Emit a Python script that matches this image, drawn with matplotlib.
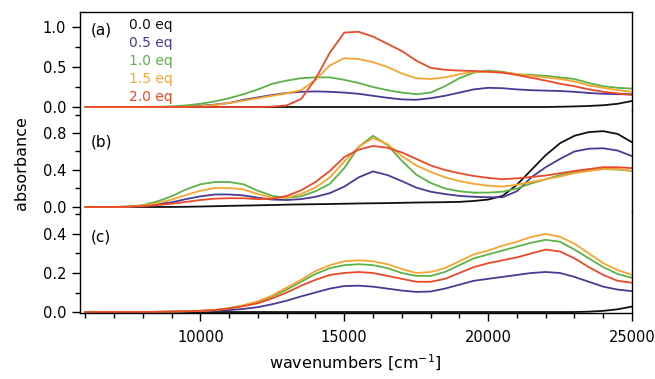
import numpy as np
import matplotlib
matplotlib.use("Agg")
import matplotlib.pyplot as plt
from matplotlib.ticker import MultipleLocator

wn = np.arange(6000, 25001, 500)

labels = ["0.0 eq", "0.5 eq", "1.0 eq", "1.5 eq", "2.0 eq"]
colors = ["#111111", "#4a3a94", "#5cb246", "#f7a531", "#ea4a2a"]

# panel (a)
black_a = [0, 0, 0, 0, 0, 0, 0, 0, 0, 0,
           0, 0, 0, 0, 0, 0, 0, 0, 0, 0,
           0, 0, 0, 0, 0, 0, 0, 0, 0, 0,
           0, 0, 0, .003, .007, .013, .022, .04, .075]
purple_a = [0, 0, 0, 0, 0, 0, 0, .005, .015, .03,
            .05, .09, .12, .15, .175, .19, .195, .19, .18, .165,
            .14, .115, .095, .09, .11, .14, .18, .22, .24, .235,
            .22, .21, .205, .2, .19, .175, .165, .16, .16]
green_a = [0, 0, 0, 0, 0, .003, .008, .02, .04, .07,
           .11, .16, .22, .29, .33, .36, .37, .37, .34, .30,
           .25, .21, .18, .16, .18, .26, .36, .43, .455, .44,
           .41, .40, .39, .37, .35, .30, .26, .24, .23]
orange_a = [0, 0, 0, 0, 0, 0, 0, .003, .01, .025,
            .05, .08, .11, .14, .17, .21, .34, .52, .61, .60,
            .56, .50, .42, .36, .35, .37, .41, .44, .44, .43,
            .41, .39, .37, .35, .32, .27, .24, .21, .19]
red_a = [0, 0, 0, 0, 0, 0, 0, 0, 0, 0,
         0, 0, 0, .005, .02, .10, .35, .68, .93, .94,
         .88, .79, .70, .58, .49, .465, .455, .45, .44, .43,
         .40, .365, .33, .29, .26, .22, .19, .17, .15]

# panel (b)
black_b = [0, 0, 0, 0, 0, 0, 0, .002, .005, .008,
           .012, .015, .018, .021, .025, .028, .03, .032, .035, .038,
           .04, .042, .045, .048, .05, .052, .055, .065, .08, .12,
           .24, .40, .56, .69, .77, .81, .82, .79, .70]
purple_b = [0, 0, 0, .003, .01, .03, .05, .085, .115, .135,
            .135, .125, .10, .08, .075, .085, .11, .15, .22, .32,
            .385, .345, .28, .21, .165, .14, .12, .11, .105, .105,
            .17, .32, .43, .52, .60, .63, .635, .61, .55]
green_b = [0, 0, 0, .005, .02, .06, .115, .19, .245, .27,
           .27, .245, .175, .12, .10, .115, .17, .25, .42, .65,
           .77, .67, .50, .35, .26, .20, .17, .155, .155, .165,
           .20, .255, .30, .345, .375, .395, .41, .405, .39]
orange_b = [0, 0, 0, .004, .015, .04, .08, .13, .175, .205,
            .205, .19, .14, .10, .10, .14, .21, .32, .49, .65,
            .745, .68, .55, .45, .38, .32, .28, .25, .23, .22,
            .24, .27, .30, .33, .365, .39, .41, .41, .39]
red_b = [0, 0, 0, .002, .008, .02, .035, .055, .075, .09,
         .095, .094, .085, .088, .12, .18, .27, .39, .54, .62,
         .66, .64, .59, .52, .45, .40, .365, .335, .315, .30,
         .31, .325, .34, .365, .39, .41, .43, .43, .42]

# panel (c)
black_c = [0, 0, 0, 0, 0, 0, 0, 0, 0, 0,
           0, 0, 0, 0, 0, 0, 0, 0, 0, 0,
           0, 0, 0, 0, 0, 0, 0, 0, 0, 0,
           0, 0, 0, 0, 0, .002, .006, .014, .028]
purple_c = [0, 0, 0, 0, 0, .001, .002, .003, .005, .007,
            .01, .016, .025, .04, .058, .08, .10, .12, .133, .135,
            .13, .12, .11, .103, .105, .12, .14, .16, .17, .18,
            .19, .20, .205, .20, .18, .155, .13, .115, .107]
green_c = [0, 0, 0, 0, 0, .001, .002, .004, .006, .01,
           .02, .033, .052, .08, .115, .155, .195, .225, .24, .245,
           .24, .225, .20, .185, .185, .205, .24, .275, .295, .315,
           .335, .355, .37, .36, .32, .275, .23, .195, .175]
orange_c = [0, 0, 0, 0, 0, .001, .002, .004, .006, .01,
            .02, .035, .055, .085, .125, .165, .21, .24, .26, .265,
            .26, .245, .22, .20, .205, .225, .26, .295, .315, .34,
            .36, .385, .40, .385, .35, .30, .25, .215, .19]
red_c = [0, 0, 0, 0, 0, .001, .002, .004, .006, .01,
         .018, .03, .045, .07, .10, .135, .165, .19, .20, .205,
         .20, .185, .17, .155, .155, .17, .20, .23, .25, .265,
         .28, .30, .32, .31, .275, .23, .19, .16, .15]

panels = [
    ("(a)", [black_a, purple_a, green_a, orange_a, red_a], (-0.05, 1.1875), 0.5, 0.25),
    ("(b)", [black_b, purple_b, green_b, orange_b, red_b], (-0.049, 1.038), 0.4, 0.2),
    ("(c)", [black_c, purple_c, green_c, orange_c, red_c], (-0.005, 0.515), 0.2, 0.1),
]

plt.rcParams['font.family'] = ['DejaVu Sans']

W, H = 655, 379
fig = plt.figure(figsize=(W / 100, H / 100), dpi=100)
left, right = 79.5 / W, 632 / W
bounds = [(12, 111), (111, 211.5), (211.5, 313)]
label_y = [0.818, 0.69, 0.75]

axes = []
for i, (name, series, ylim, major, minor) in enumerate(panels):
    top, bot = bounds[i]
    ax = fig.add_axes([left, 1 - bot / H, right - left, (bot - top) / H])
    for y, c in zip(series, colors):
        ax.plot(wn, y, color=c, lw=1.3, solid_joinstyle='round',
                solid_capstyle='round')
    ax.set_xlim(5800, 25000)
    ax.set_ylim(*ylim)
    ax.yaxis.set_major_locator(MultipleLocator(major))
    ax.yaxis.set_minor_locator(MultipleLocator(minor))
    ax.yaxis.set_major_formatter(matplotlib.ticker.FormatStrFormatter('%.1f'))
    ax.tick_params(axis='y', which='major', length=6, width=1, labelsize=10.5)
    ax.tick_params(axis='y', which='minor', length=3.5, width=1)
    for s in ax.spines.values():
        s.set_linewidth(1.0)
    ax.spines['top'].set_visible(i == 0)
    ax.spines['bottom'].set_visible(i == 2)
    if i < 2:
        ax.tick_params(axis='x', which='both', bottom=False, labelbottom=False)
    ax.text(0.02, label_y[i], name, transform=ax.transAxes, fontsize=11,
            va='center', ha='left')
    ax.patch.set_alpha(0)
    axes.append(ax)

# legend-like labels in panel (a)
ys = [0.869, 0.687, 0.505, 0.323, 0.141]
for lab, c, yy in zip(labels, colors, ys):
    axes[0].text(0.0896, yy, lab, color=c, transform=axes[0].transAxes,
                 fontsize=10, va='center', ha='left')

axc = axes[2]
axc.xaxis.set_minor_locator(MultipleLocator(1000))
axc.set_xticks([10000, 15000, 20000, 25000])
axc.tick_params(axis='x', which='major', length=6, width=1, labelsize=10.5, pad=6)
axc.tick_params(axis='x', which='minor', length=3.5, width=1)
axc.set_xlabel("wavenumbers [cm$^{-1}$]", fontsize=11.5, labelpad=6)

fig.text(22 / W, 1 - 163 / H, "absorbance", rotation=90, fontsize=11.5,
         va='center', ha='center')

fig.savefig("out.png", dpi=100)
